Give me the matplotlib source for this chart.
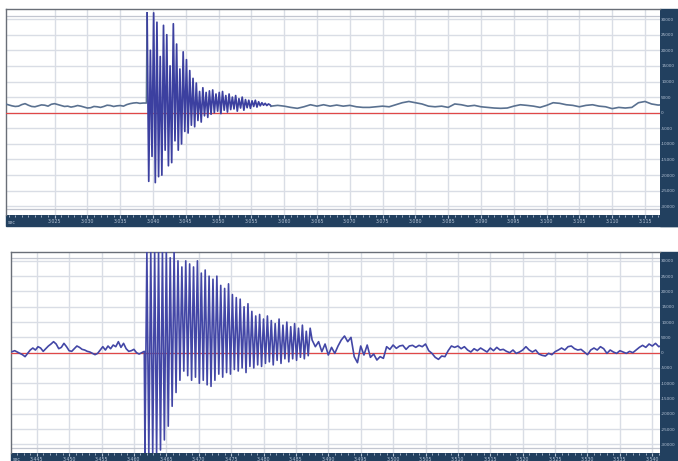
import numpy as np
import matplotlib.pyplot as plt
from matplotlib.patches import Rectangle
from matplotlib.ticker import MultipleLocator

# ---- upper record (samples) ----
top_pre_t0, top_pre_dt = 3.0175, 0.0005
top_pre = [2800, 2500, 2200, 2000, 2100, 2600, 2900, 2400, 2000, 1900, 2200, 2500,
           2400, 2100, 2700, 2900, 2600, 2300, 2000, 2100, 1800, 2000, 2300, 2100,
           1800, 1500, 1600, 2000, 1900, 1700, 2000, 2400, 2300, 2000, 2200, 2300,
           2100, 2600, 2900, 3100, 3200, 3000, 3100, 3100]

top_burst_t0, top_burst_dt = 3.0391, 0.00025
top_burst = [32000, -22000, 20000, -14000, 32000, -22400, 29000, -20500, 18000, -20000,
             28000, -12000, 25000, -17000, 15000, -16000, 28500, -9000, 22000, -12000,
             14000, -10000, 19500, -6000, 17000, -6500, 13500, -4000, 11000, -4500,
             9500, -2500, 6800, -3000, 8000, -1000, 6500, -1500, 7000, -500,
             7300, 0, 6000, 500, 6500, -300, 6800, 800, 5500, 200,
             6000, 1000, 5000, 1200, 5500, 500, 4500, 1500, 5000, 800,
             4200, 1600, 4000, 1400, 3800, 2000, 4000, 1800, 3500, 2200,
             3200, 2400, 3000, 2300, 2800, 2500]

top_post_t0, top_post_dt = 3.058, 0.001
top_post = [2100, 2350, 2100, 1700, 1400, 1900, 2550, 2100, 2550, 2100, 2450,
            2100, 2350, 1900, 1700, 1700, 1900, 2100, 1900, 2550, 3200, 3600,
            3200, 2800, 2100, 1900, 2100, 1700, 2800, 2550, 2100, 2350, 1900,
            1700, 1500, 1400, 1500, 2100, 2550, 2350, 2100, 1700, 2350, 3200,
            3000, 2550, 2350, 1900, 2350, 2550, 2100, 1900, 1300, 1700, 1500,
            1700, 3200, 3600, 2800, 2450, 2550]

top_xticks = [3.025, 3.030, 3.035, 3.040, 3.045, 3.050, 3.055, 3.060, 3.065, 3.070,
              3.075, 3.080, 3.085, 3.090, 3.095, 3.100, 3.105, 3.110, 3.115]
top_xlabels = ['3.025', '3.030', '3.035', '3.040', '3.045', '3.050', '3.055', '3.060',
               '3.065', '3.070', '3.075', '3.080', '3.085', '3.090', '3.095', '3.100',
               '3.105', '3.110', '3.115']

# ---- lower record ----
bot_pre_t0, bot_pre_dt = 3.4412, 0.0004
bot_pre = [330, 650, 220, -220, -650, -1300, -220, 870, 1520, 870, 1960, 1520,
           440, 1300, 2180, 2830, 3600, 2830, 1300, 1740, 3050, 1960, 650, 440,
           1300, 2180, 1740, 1090, 870, 440, 220, -220, -650, -220, 870, 1960,
           870, 2180, 1300, 2500, 1960, 3600, 1740, 3050, 1300, 440, 650, 1090,
           0, -440, 0, 440]

bot_burst_t0, bot_burst_dt = 3.4617, 0.0003
bot_burst = [-33000, 33000, -33000, 33000, -33000, 33000, -33000, 33000, -31800, 33000,
             -28500, 33000, -24000, 31000, -17500, 33000, -13000, 30000, -9000, 28000,
             -6000, 30000, -7500, 29000, -9000, 28000, -8000, 30000, -10000, 26000,
             -9000, 27000, -10500, 25000, -11000, 24000, -9000, 25000, -7000, 22000,
             -8000, 21000, -6500, 22500, -7000, 19000, -5500, 18000, -6000, 17500,
             -5000, 15000, -6500, 16000, -4500, 13500, -5000, 12000, -4000, 12500,
             -4500, 11000, -3500, 12000, -3000, 10500, -4000, 9500, -2500, 11000,
             -3500, 9000, -2000, 10000, -3000, 8500, -2000, 9500, -2500, 8000,
             -1500, 9000, -2000, 7000, -1000, 8000]

bot_post_t0, bot_post_dt = 3.4875, 0.0005
bot_post = [4140, 1960, 3600, 330, 2830, -760, 1740, -220, 2180, 4140, 5450, 3600,
            5000, -1300, -3270, 2180, -760, 2500, -1520, -440, -2400, -1300, -1850, 1960,
            1090, 2500, 1420, 2180, 2400, 1090, 2180, 2400, 1740, 2400, 1960, 2830,
            650, -220, -1520, -2180, -1090, -1300, 650, 2180, 1740, 2180, 1300, 1960,
            870, 220, 1300, 650, 1520, 870, 220, 1520, 650, 1740, 870, 1090,
            440, 0, 870, -220, 220, 870, 1960, 870, 220, 870, -440, -870,
            -1090, -220, -650, 330, 870, 1520, 870, 1960, 2180, 1300, 870, 1090,
            220, -650, 870, 1520, 870, 1960, 1300, -220, 870, 220, -220, 650,
            220, -220, 440, 0, 870, 1740, 2400, 1740, 2830, 2180, 3050, 1960, 2400]

bot_xticks = [3.445, 3.450, 3.455, 3.460, 3.465, 3.470, 3.475, 3.480, 3.485, 3.490,
              3.495, 3.500, 3.505, 3.510, 3.515, 3.520, 3.525, 3.530, 3.535, 3.540]
bot_xlabels = ['3.445', '3.450', '3.455', '3.460', '3.465', '3.470', '3.475', '3.480',
               '3.485', '3.490', '3.495', '3.500', '3.505', '3.510', '3.515', '3.520',
               '3.525', '3.530', '3.535', '3.540']

yticks = [30000, 25000, 20000, 15000, 10000, 5000, 0, -5000, -10000, -15000,
          -20000, -25000, -30000]
ylabels = ['30000', '25000', '20000', '15000', '10000', '5000', '0', '-5000',
           '-10000', '-15000', '-20000', '-25000', '-30000']

NAVY = '#22405f'
TICKTXT = '#b4c2d4'
GRID = '#d9dde5'


def samples(t0, dt, vals):
    return t0 + dt * np.arange(len(vals)), np.array(vals, dtype=float)


def scope_panel(px, xlim, ylim, xticks, xlabels, strip_h, xpad):
    W, H = 678.0, 461.0
    x0, y0, x1, y1 = px
    ax = fig.add_axes([x0 / W, (H - y1) / H, (x1 - x0) / W, (y1 - y0) / H])
    # dark strips under and right of the plot area
    fig.add_artist(Rectangle((x0 / W, (H - y1 - strip_h) / H), (W - x0) / W, strip_h / H,
                             transform=fig.transFigure, color=NAVY, zorder=-1))
    fig.add_artist(Rectangle((x1 / W, (H - y1 - strip_h) / H), (W - x1) / W,
                             (y1 - y0 + strip_h) / H,
                             transform=fig.transFigure, color=NAVY, zorder=-1))
    ax.set_xlim(*xlim)
    ax.set_ylim(*ylim)
    ax.set_xticks(xticks, xlabels)
    ax.xaxis.set_minor_locator(MultipleLocator(0.001))
    ax.set_yticks(yticks, ylabels)
    ax.yaxis.set_ticks_position('right')
    ax.tick_params(axis='x', which='major', length=1.8, color=TICKTXT, labelcolor=TICKTXT,
                   labelsize=3.4, pad=xpad)
    ax.tick_params(axis='x', which='minor', length=1.1, color=TICKTXT)
    ax.tick_params(axis='y', length=0, labelcolor=TICKTXT, labelsize=3.0, pad=0.8)
    ax.grid(True, which='major', color=GRID, lw=1.0)
    ax.axhline(31000, color='#c2c6d0', lw=0.9)
    ax.axhline(-31000, color='#c2c6d0', lw=0.9)
    ax.axhline(0, color='#e04848', lw=0.9, zorder=3)
    for s in ['right', 'bottom']:
        ax.spines[s].set_visible(False)
    for s in ['left', 'top']:
        ax.spines[s].set_color('#6a6f78')
        ax.spines[s].set_linewidth(1.0)
    ax.text(0.003, -0.022, 'sec', transform=ax.transAxes, fontsize=3.4,
            color=TICKTXT, va='top', ha='left')
    return ax


fig = plt.figure(figsize=(6.78, 4.61), dpi=100)

# upper panel
ax1 = scope_panel((6, 9, 660, 215), (3.01759, 3.11729), (-32790, 33240),
                  top_xticks, top_xlabels, 11, 1.2)
t_a, v_a = samples(top_pre_t0, top_pre_dt, top_pre)
t_b, v_b = samples(top_burst_t0, top_burst_dt, top_burst)
t_c, v_c = samples(top_post_t0, top_post_dt, top_post)
ax1.plot(np.r_[t_a, t_b[:1]], np.r_[v_a, v_b[:1]], color='#5a7190', lw=1.2, zorder=4)
ax1.plot(np.r_[t_b, t_c[:1]], np.r_[v_b, v_c[:1]], color='#3c40a0', lw=1.25, zorder=4)
ax1.plot(t_c, v_c, color='#5a7190', lw=1.2, zorder=4)

# lower panel
ax2 = scope_panel((11, 252, 660, 453), (3.44103, 3.54119), (-32780, 32900),
                  bot_xticks, bot_xlabels, 8, 0.8)
t_a, v_a = samples(bot_pre_t0, bot_pre_dt, bot_pre)
t_b, v_b = samples(bot_burst_t0, bot_burst_dt, bot_burst)
t_c, v_c = samples(bot_post_t0, bot_post_dt, bot_post)
ax2.plot(np.r_[t_a, t_b, t_c], np.r_[v_a, v_b, v_c], color='#4347a6', lw=1.2, zorder=4)

fig.savefig('out.png', dpi=100)
